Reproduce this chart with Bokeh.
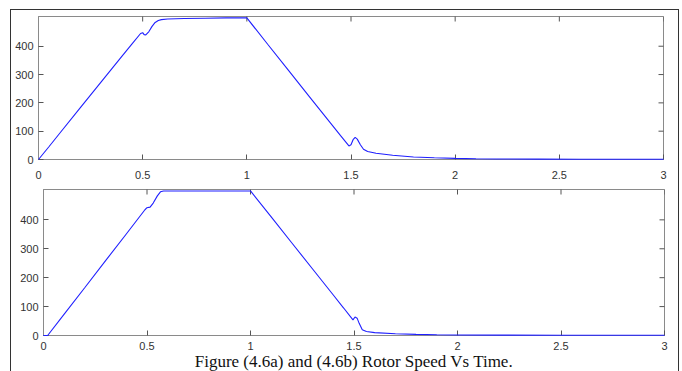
import math
from bokeh.plotting import figure
from bokeh.layouts import column, row
from bokeh.models import FixedTicker, Range1d, Title, Spacer
from bokeh.embed import file_html
from bokeh.resources import INLINE

# ---- data ----
t_a = [0, 0.05, 0.1, 0.2, 0.3, 0.4, 0.45, 0.49, 0.5, 0.507, 0.515, 0.53, 0.545, 0.56,
       0.575, 0.59, 0.62, 0.7, 0.8, 0.9, 1.0, 1.1, 1.2, 1.3, 1.4, 1.45, 1.49, 1.5,
       1.51, 1.52, 1.53, 1.545, 1.56, 1.58, 1.62, 1.7, 1.8, 1.9, 2.0, 2.1, 2.2, 2.4,
       2.6, 3.0]
w_a = [0, 45, 91, 182, 273, 364, 409, 445, 448, 441, 440, 452, 470, 484,
       491, 494, 496, 498, 499, 500, 500, 407, 315, 222, 130, 84, 48, 52,
       70, 78, 72, 52, 36, 28, 22, 15, 9, 6, 4, 2.8, 2, 1.4,
       1.1, 1]

t_b = [0, 0.02, 0.1, 0.2, 0.3, 0.4, 0.49, 0.5, 0.515, 0.53, 0.55, 0.565, 0.58, 0.7,
       0.85, 1.0, 1.1, 1.2, 1.3, 1.4, 1.45, 1.495, 1.505, 1.515, 1.525, 1.54, 1.56,
       1.6, 1.7, 1.8, 1.9, 2.0, 2.2, 2.5, 3.0]
w_b = [0, 0, 74, 166, 259, 351, 435, 442, 444, 458, 483, 497, 500, 500,
       500, 500, 410, 320, 230, 140, 95, 54, 64, 60, 42, 20, 14,
       10, 6, 4, 2.5, 1.8, 1.3, 1.1, 1]

x_ticks = [0, 0.5, 1, 1.5, 2, 2.5, 3]
x_labels = {0: "0", 0.5: "0.5", 1: "1", 1.5: "1.5", 2: "2", 2.5: "2.5", 3: "3"}
y_ticks = [0, 100, 200, 300, 400]
X_MAX = 3
Y_MAX = 505
caption = "Figure (4.6a) and (4.6b) Rotor Speed Vs Time."

AX = "#8a8a8a"
TICK = "#555555"
LBL = "#333333"
TICK_LEN = 5


def make(t, w, fw, fh, ml, mr, mt, mb, label_standoff):
    p = figure(frame_width=fw, frame_height=fh, output_backend="svg", toolbar_location=None,
               x_range=Range1d(0, X_MAX), y_range=Range1d(0, Y_MAX),
               min_border_left=ml, min_border_right=mr,
               min_border_top=mt, min_border_bottom=mb)
    p.frame_align = False
    p.xgrid.visible = False
    p.ygrid.visible = False
    p.outline_line_color = AX
    p.background_fill_color = "white"
    p.border_fill_color = "white"
    p.xaxis.ticker = FixedTicker(ticks=x_ticks)
    p.xaxis.major_label_overrides = x_labels
    p.yaxis.ticker = FixedTicker(ticks=y_ticks)
    for ax in p.xaxis + p.yaxis:
        ax.axis_line_color = AX
        ax.major_tick_line_color = TICK
        ax.major_tick_in = TICK_LEN
        ax.major_tick_out = 0
        ax.minor_tick_line_color = None
        ax.major_label_text_font = "Liberation Sans"
        ax.major_label_text_font_size = "11px"
        ax.major_label_text_color = LBL
    p.xaxis.major_label_standoff = label_standoff
    p.yaxis.major_label_standoff = 5
    # mirrored inward ticks on top and right edges (half of each dash is clipped by the frame)
    p.scatter(x=x_ticks, y=[Y_MAX] * len(x_ticks), marker="dash", size=2 * TICK_LEN,
              angle=math.pi / 2, line_color=TICK, line_width=1)
    p.scatter(x=[X_MAX] * len(y_ticks), y=y_ticks, marker="dash", size=2 * TICK_LEN,
              angle=0, line_color=TICK, line_width=1)
    r = p.line(t, w, line_color="#1f1fff", line_width=1.1)
    r.level = "overlay"
    return p


p1 = make(t_a, w_a, 625, 143, 27, 15, 6, 22, 11)
p2 = make(t_b, w_b, 621, 146, 32, 14, 8, 36, 6)

cap = Title(text=caption, align="center", offset=-4,
            text_font="Liberation Serif", text_font_size="17px",
            text_font_style="normal", text_color="#111111", standoff=-5)
p2.add_layout(cap, "below")

box = column(p1, p2, spacing=0,
             styles={"border-left": "1px solid #333",
                     "border-top": "1px solid #333", "border-right": "1px solid #333"})
layout = row(Spacer(width=10), column(Spacer(height=9), box, spacing=0), spacing=0)

open("out.html", "w").write(file_html(layout, INLINE))
